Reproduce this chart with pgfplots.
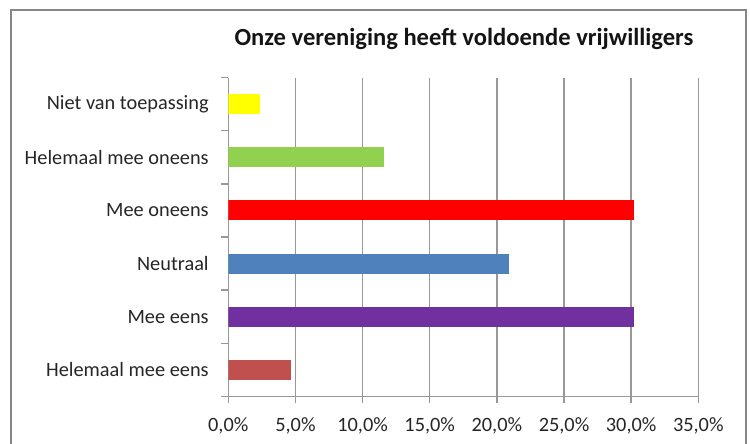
\documentclass[border=0pt]{standalone}
\usepackage{pgfplots}
\pgfplotsset{compat=1.18}
\usepackage{fontspec}
\setmainfont{Carlito}
\definecolor{gridgray}{RGB}{152,152,152}
\definecolor{framegray}{RGB}{134,134,134}
\definecolor{cA}{HTML}{C0504D}
\definecolor{cB}{HTML}{7030A0}
\definecolor{cC}{HTML}{4F81BD}
\definecolor{cD}{HTML}{FF0000}
\definecolor{cE}{HTML}{92D050}
\definecolor{cF}{HTML}{FFFF00}
\begin{document}
\begin{tikzpicture}
\path[use as bounding box] (0pt,0pt) rectangle (450pt,-266.4pt);
\begin{scope}
\clip (0pt,0pt) rectangle (450pt,-266.4pt);
\draw[framegray, line width=1.2pt] (6.6pt,-280pt) -- (6.6pt,-6pt) -- (447.3pt,-6pt) -- (447.3pt,-280pt);
\end{scope}
\node[font=\bfseries\fontsize{14.75}{17}\selectfont, anchor=base, text=black!92] at (278.4pt,-27.6pt) {Onze vereniging heeft voldoende vrijwilligers};
\begin{axis}[
  at={(136.98pt,-237.9pt)}, anchor=south west,
  scale only axis, width=282pt, height=191.4pt,
  xbar, bar width=12pt, bar shift=0pt,
  xmin=0, xmax=35, ymin=-0.5, ymax=5.5,
  axis x line*=bottom, axis y line*=left,
  axis line style={gridgray, line width=0.9pt},
  xmajorgrids, grid style={gridgray, line width=0.9pt},
  xtick={0,5,...,35},
  tick align=outside, major tick length=4.2pt, minor tick length=4.2pt,
  tick style={gridgray, line width=0.9pt},
  ytick={0,...,5},
  yticklabels={Helemaal mee eens, Mee eens, Neutraal, Mee oneens, Helemaal mee oneens, Niet van toepassing},
  minor ytick={-0.5,0.5,...,5.5},
  major y tick style={draw=none},
  /pgf/number format/assume math mode=true,
  xticklabel={\pgfmathprintnumber[fixed,fixed zerofill,precision=1,use comma]{\tick}\%},
  ticklabel style={font=\fontsize{12.2}{14}\selectfont, text=black!85},
  yticklabel style={inner sep=0pt, xshift=-7.4pt},
  xticklabel style={inner sep=0pt, yshift=-8.1pt},
]
\addplot[fill=cA, draw=none] coordinates {(4.65,0)};
\addplot[fill=cB, draw=none] coordinates {(30.23,1)};
\addplot[fill=cC, draw=none] coordinates {(20.93,2)};
\addplot[fill=cD, draw=none] coordinates {(30.23,3)};
\addplot[fill=cE, draw=none] coordinates {(11.63,4)};
\addplot[fill=cF, draw=none] coordinates {(2.33,5)};
\end{axis}
\end{tikzpicture}
\end{document}
